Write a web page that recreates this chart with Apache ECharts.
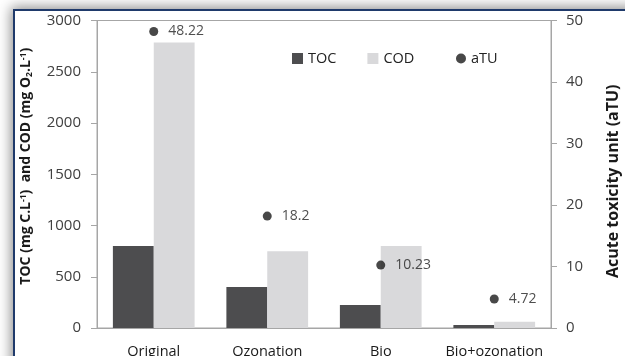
<!DOCTYPE html>
<html>
<head>
<meta charset="utf-8">
<script src="https://cdn.jsdelivr.net/npm/echarts@6/dist/echarts.min.js"></script>
<style>
  html, body { margin: 0; padding: 0; background: #ffffff; overflow: hidden; }
  #frame {
    position: absolute; left: 13px; top: 9px; width: 640px; height: 380px;
    background: #ffffff; border-left: 2px solid #1f3a6b; border-top: 2px solid #1f3a6b;
    box-shadow: -2px -2px 12px rgba(0,0,0,0.45);
  }
  #chart { position: absolute; left: 0; top: 0; width: 625px; height: 356px; }
</style>
</head>
<body>
<div id="frame"></div>
<div id="chart"></div>
<script>
// Treatment stages
const categories = ['Original', 'Ozonation', 'Bio', 'Bio+ozonation'];
// Total organic carbon, mg C/L
const tocValues = [800, 400, 225, 30];
// Chemical oxygen demand, mg O2/L
const codValues = [2785, 750, 800, 60];
// Acute toxicity units
const atuValues = [48.22, 18.2, 10.23, 4.72];

const FONT = '"Open Sans", "Noto Sans", sans-serif';
const AXIS_GRAY = '#a6a6a6';

const chart = echarts.init(document.getElementById('chart'), null, { renderer: 'canvas' });

// rich-text styles for the left axis title (superscripts and subscript)
const nameRich = {
  a: { fontFamily: FONT, fontSize: 14, fontWeight: 'bold', color: '#1a1a1a', lineHeight: 18, verticalAlign: 'middle' },
  s: { fontFamily: FONT, fontSize: 8.5, fontWeight: 'bold', color: '#1a1a1a', lineHeight: 18, verticalAlign: 'top', padding: [2, 0, 0, 0] },
  b: { fontFamily: FONT, fontSize: 8.5, fontWeight: 'bold', color: '#1a1a1a', lineHeight: 18, verticalAlign: 'bottom', padding: [0, 0, 1, 0] }
};

const legendText = { fontFamily: FONT, fontSize: 14.5, color: '#222' };

chart.setOption({
  animation: false,
  backgroundColor: 'transparent',
  textStyle: { fontFamily: FONT },
  grid: {
    left: 97, right: 74, top: 20.5, bottom: 28,
    outerBoundsMode: 'none', containLabel: false,
    show: true, borderColor: AXIS_GRAY, borderWidth: 1, backgroundColor: 'transparent'
  },
  legend: [
    {
      left: 287, top: 46,
      itemWidth: 11, itemHeight: 11, itemGap: 31,
      textStyle: legendText,
      data: [
        { name: 'TOC', icon: 'rect' },
        { name: 'COD', icon: 'rect' }
      ]
    },
    {
      left: 451, top: 46,
      itemWidth: 10, itemHeight: 10,
      textStyle: legendText,
      data: [{ name: 'aTU', icon: 'circle' }]
    }
  ],
  xAxis: {
    type: 'category',
    data: categories,
    axisLine: { show: true, lineStyle: { color: AXIS_GRAY, width: 1 } },
    axisTick: { show: false },
    axisLabel: { fontFamily: FONT, fontSize: 14.5, color: '#1a1a1a', margin: 16, interval: 0 }
  },
  yAxis: [
    {
      type: 'value', min: 0, max: 3000, interval: 500,
      position: 'left',
      name: '{a|TOC (mg C.L}{s|-1}{a|)  and COD (mg O}{b|2}{a|.L}{s|-1}{a|)}',
      nameLocation: 'middle', nameGap: 62, nameRotate: 90,
      nameTextStyle: { rich: nameRich, padding: [0, 0, 0, 16] },
      axisLine: { show: true, lineStyle: { color: AXIS_GRAY, width: 1 } },
      axisTick: { show: true, length: 6, lineStyle: { color: AXIS_GRAY } },
      splitLine: { show: false },
      axisLabel: { fontFamily: FONT, fontSize: 15, color: '#404040', margin: 16, formatter: v => String(v) }
    },
    {
      type: 'value', min: 0, max: 50, interval: 10,
      position: 'right',
      name: 'Acute toxicity unit (aTU)',
      nameLocation: 'middle', nameGap: 54, nameRotate: 90,
      nameTextStyle: { fontFamily: FONT, fontSize: 16, fontWeight: 'bold', color: '#1a1a1a', padding: [0, 14, 0, 0] },
      axisLine: { show: true, lineStyle: { color: AXIS_GRAY, width: 1 } },
      axisTick: { show: true, length: 6, lineStyle: { color: AXIS_GRAY } },
      splitLine: { show: false },
      axisLabel: { fontFamily: FONT, fontSize: 15, color: '#404040', margin: 15, formatter: v => String(v) }
    }
  ],
  series: [
    {
      name: 'TOC', type: 'bar', data: tocValues, yAxisIndex: 0,
      barGap: '0%', barCategoryGap: '28%',
      itemStyle: { color: '#4d4d4f' }
    },
    {
      name: 'COD', type: 'bar', data: codValues, yAxisIndex: 0,
      barGap: '0%', barCategoryGap: '28%',
      itemStyle: { color: '#d9d9db' }
    },
    {
      name: 'aTU', type: 'scatter', data: atuValues, yAxisIndex: 1,
      symbol: 'circle', symbolSize: 9,
      itemStyle: { color: '#1a1a1a' },
      label: {
        show: true, position: 'right', distance: 10,
        fontFamily: FONT, fontSize: 14, color: '#222',
        formatter: p => String(p.value)
      },
      z: 5
    }
  ]
});
</script>
</body>
</html>
